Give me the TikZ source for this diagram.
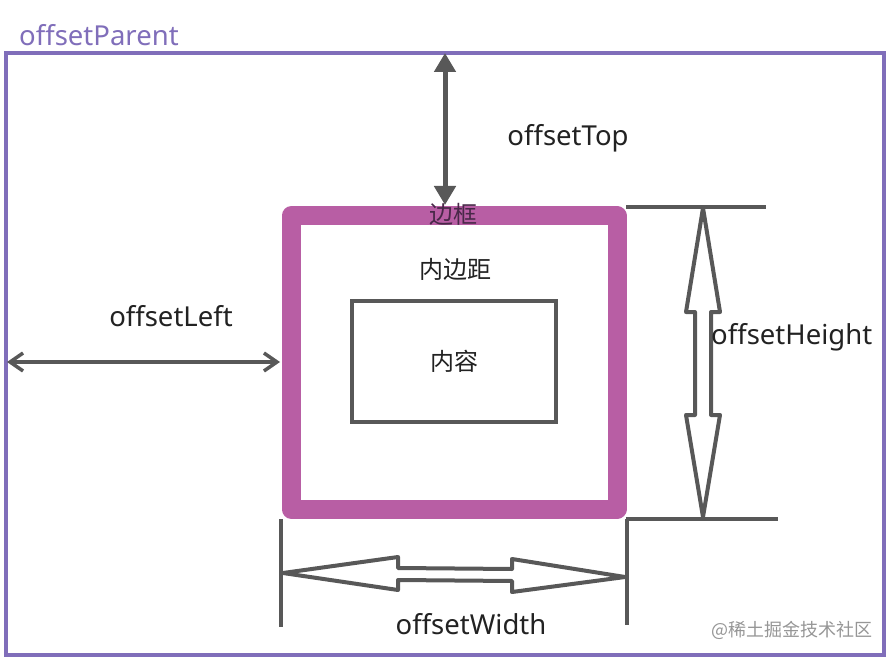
\documentclass[tikz,border=0pt]{standalone}
\usepackage{fontspec}
\setmainfont{Noto Sans}
\newfontfamily\cjk{Noto Sans CJK SC}
\usetikzlibrary{arrows.meta}
\definecolor{parentpurple}{RGB}{128,110,186}
\definecolor{bordermag}{RGB}{184,94,164}
\definecolor{linegray}{RGB}{88,88,88}
\definecolor{textdark}{RGB}{34,34,34}
\definecolor{bordertext}{RGB}{72,40,72}
\definecolor{wmgray}{RGB}{150,150,150}
\tikzset{
  lbl/.style={font=\fontsize{27.5}{32}\selectfont, text=textdark, inner sep=0pt},
  cjklbl/.style={font=\cjk\fontsize{24}{28}\selectfont, text=textdark, inner sep=0pt},
  guide/.style={draw=linegray, line width=3.5pt},
  blockarrow/.style={draw=linegray, line width=4pt, line join=round, fill=white},
}
\begin{document}
\begin{tikzpicture}[x=1pt,y=-1pt]
\useasboundingbox (0,0) rectangle (891,660);
\fill[white] (0,0) rectangle (891,660);
% offsetParent box
\draw[parentpurple, line width=3.5pt] (6,53) rectangle (884,655);
\node[lbl, text=parentpurple, anchor=west] (parent) at (19,35) {offsetParent};
% border box
\draw[bordermag, line width=19pt, line join=round] (291,216) rectangle (617,509);
\node[cjklbl, text=bordertext] (border) at (453,214) {边框};
\node[cjklbl] (padding) at (455,269) {内边距};
% content box
\draw[linegray, line width=3.5pt] (352,301) rectangle (556,422) node[cjklbl, pos=0.5] (content) {内容};
% coordinates
\coordinate (topA) at (445,53);
\coordinate (topB) at (445,205);
\coordinate (leftA) at (7,362);
\coordinate (leftB) at (280,362);
% offsetTop arrow
\draw[linegray, line width=5pt, {Triangle[width=21pt,length=19pt]}-{Triangle[width=21pt,length=19pt]}] (topA) -- (topB);
\node[lbl] (offtop) at (568,138) {offsetTop};
% offsetLeft arrow
\draw[linegray, line width=3.5pt, {Straight Barb[length=13pt,width=18pt,line width=3.5pt]}-{Straight Barb[length=13pt,width=18pt,line width=3.5pt]}] (leftA) -- (leftB);
\node[lbl] (offleft) at (171,316) {offsetLeft};
% guides right
\coordinate (hTopL) at (626,207);
\coordinate (hTopR) at (766,207);
\coordinate (hBotL) at (626,519);
\coordinate (hBotR) at (778,519);
\draw[guide] (hTopL) -- (hTopR);
\draw[guide] (hBotL) -- (hBotR);
% guides bottom
\coordinate (vLT) at (281,519);
\coordinate (vLB) at (281,627);
\coordinate (vRT) at (627,519);
\coordinate (vRB) at (627,625);
\draw[guide] (vLT) -- (vLB);
\draw[guide] (vRT) -- (vRB);
% offsetHeight block arrow
\draw[blockarrow] (703,208) -- (720,312) -- (711,312) -- (711,415) -- (720,415) -- (703,517) -- (686,415) -- (695,415) -- (695,312) -- (686,312) -- cycle;
\node[lbl, anchor=west] (offheight) at (711,337) {offsetHeight};
% offsetWidth block arrow
\draw[blockarrow] (283,573) -- (398,557) -- (398,568) -- (512,569) -- (512,559) -- (625,577) -- (512,592) -- (512,581) -- (398,580) -- (398,590) -- cycle;
\node[lbl] (offwidth) at (471,624) {offsetWidth};
% watermark
\node[font=\cjk\fontsize{18}{21}\selectfont, text=wmgray, inner sep=0pt] (wm) at (792,630) {@稀土掘金技术社区};
\end{tikzpicture}
\end{document}
